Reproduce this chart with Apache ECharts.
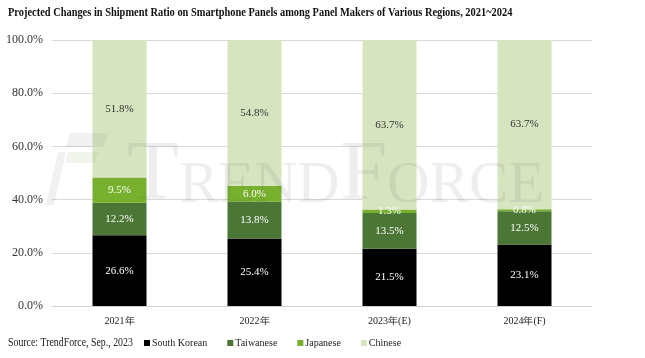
<!DOCTYPE html>
<html><head><meta charset="utf-8">
<script src="https://cdn.jsdelivr.net/npm/echarts@6/dist/echarts.min.js"></script>
<style>html,body{margin:0;padding:0;background:#fff}#c{width:645px;height:358px}</style>
</head><body><div id="c"></div>
<script>
const categories = ['2021年','2022年','2023年(E)','2024年(F)'];
const southKorean = [26.6, 25.4, 21.5, 23.1];
const taiwanese = [12.2, 13.8, 13.5, 12.5];
const japanese = [9.5, 6.0, 1.3, 0.8];
const chinese = [51.8, 54.8, 63.7, 63.7];
const seriesNames = ['South Korean','Taiwanese','Japanese','Chinese'];
const colors = ['#000000','#4b7636','#76b02c','#d7e4c0'];
const labelColors = ['#ffffff','#ffffff','#ffffff','#333333'];

const chart = echarts.init(document.getElementById('c'));
const font = '"Liberation Serif","Times New Roman",serif';
const datas = [southKorean, taiwanese, japanese, chinese];
const wm = 'rgba(90,90,90,0.10)';
chart.setOption({
  animation:false,
  textStyle:{fontFamily:font},
  graphic:[
    {type:'text', x:8, y:13, scaleX:0.8, style:{text:'Projected Changes in Shipment Ratio on Smartphone Panels among Panel Makers of Various Regions, 2021~2024',
      font:'bold 13px '+font, fill:'#111', verticalAlign:'middle'}},
    {type:'text', x:8, y:343, scaleX:0.82, style:{text:'Source: TrendForce, Sep., 2023', font:'12px '+font, fill:'#222', verticalAlign:'middle'}},
    {type:'polygon', z:100, silent:true, shape:{points:[[70,133],[108,133],[104,147],[66,147]]}, style:{fill:'rgba(120,120,120,0.10)'}},
    {type:'polygon', z:100, silent:true, shape:{points:[[68,152],[98,152],[95,163],[65,163]]}, style:{fill:'rgba(120,160,80,0.10)'}},
    {type:'polygon', z:100, silent:true, shape:{points:[[58,152],[66,152],[54,205],[46,205]]}, style:{fill:'rgba(120,120,120,0.10)'}},
    {type:'text', z:100, silent:true, x:127, y:177, style:{text:'T', font:'85px '+font, fill:wm, verticalAlign:'middle'}},
    {type:'text', z:100, silent:true, x:179, y:186, style:{text:'REND', font:'59px '+font, fill:wm, verticalAlign:'middle'}},
    {type:'text', z:100, silent:true, x:340, y:177, style:{text:'F', font:'85px '+font, fill:wm, verticalAlign:'middle'}},
    {type:'text', z:100, silent:true, x:387, y:186, style:{text:'ORCE', font:'59px '+font, fill:wm, verticalAlign:'middle'}}
  ],
  legend:{left:139, top:333, itemWidth:6, itemHeight:6, itemGap:20, icon:'rect',
    textStyle:{fontFamily:font,fontSize:10,color:'#222',padding:[0,0,0,-3]}, data:seriesNames},
  grid:{left:52, right:53, top:40, bottom:52},
  xAxis:{type:'category', data:categories, axisTick:{show:false},
    axisLine:{lineStyle:{color:'#d0d0d0'}},
    axisLabel:{fontFamily:font,fontSize:10,color:'#222',margin:10}},
  yAxis:{type:'value', min:0, max:100, interval:20,
    axisLabel:{fontFamily:font,fontSize:12,color:'#333',margin:9,formatter:v=>v.toFixed(1)+'%'},
    splitLine:{lineStyle:{color:'#d9d9d9'}}},
  series: seriesNames.map((n,i)=>({
    name:n, type:'bar', stack:'s', barWidth:54, z:2,
    itemStyle:{color:colors[i]},
    label:{show:true, position:'inside', fontFamily:font, fontSize:11, color:labelColors[i],
      formatter:p=>p.value.toFixed(1)+'%'},
    data:datas[i]
  }))
});
</script></body></html>
